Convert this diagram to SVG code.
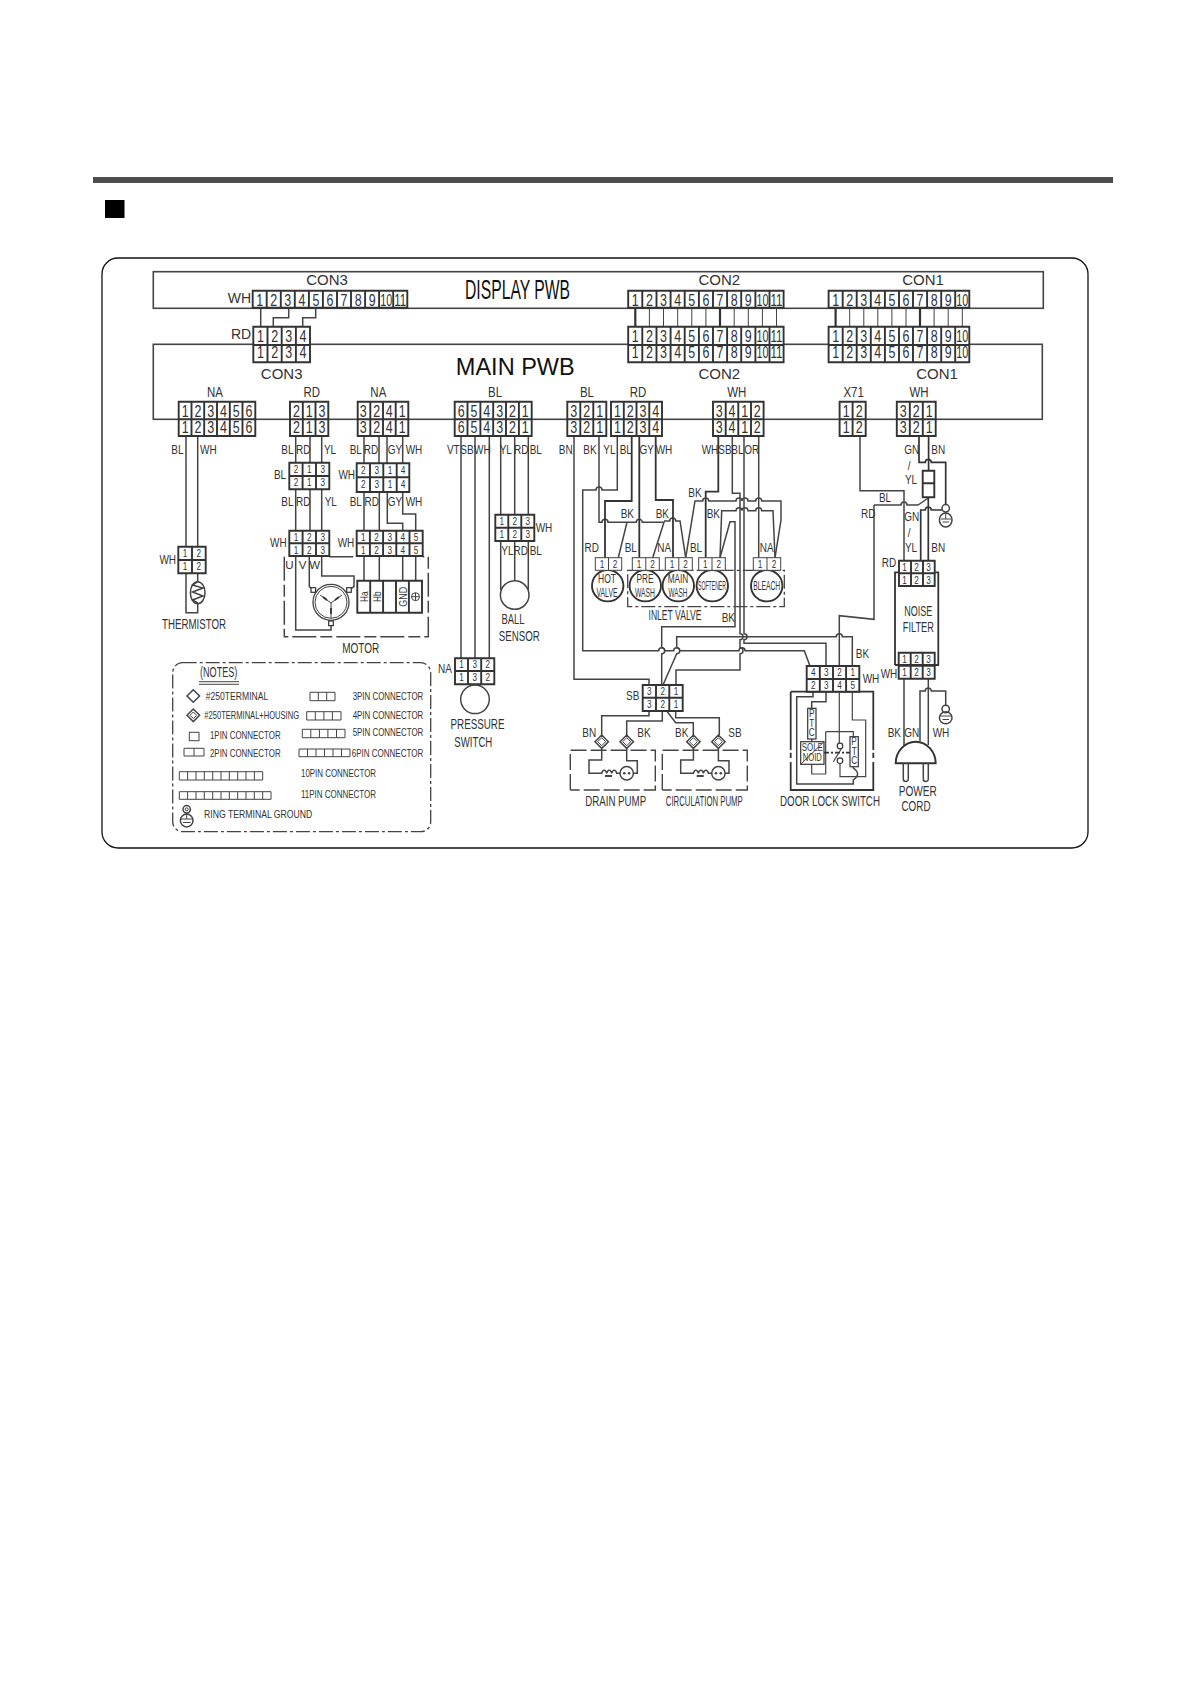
<svg xmlns="http://www.w3.org/2000/svg" width="1191" height="1683" viewBox="0 0 1191 1683">
<style>
text{font-family:"Liberation Sans",Arial,sans-serif;fill:#333;text-anchor:middle;transform-box:fill-box;transform-origin:center}
.w{fill:none;stroke:#444;stroke-width:1.5}
.tw{fill:none;stroke:#333;stroke-width:1.8}
.b{fill:#fff;stroke:#333;stroke-width:1.9}
.sb{fill:#fff;stroke:#333;stroke-width:1.2}
.o{fill:none;stroke:#444;stroke-width:1.6}
.th{fill:none;stroke:#444;stroke-width:1}
.d{font-size:16px;transform:scaleX(.78)}
.s{font-size:10px;transform:scaleX(.82)}
.l{font-size:13.5px;transform:scaleX(.74)}
.n{font-size:14px;transform:scaleX(.72)}
.h{font-size:14px;transform:scaleX(.82)}
.m{font-size:11.5px}
.v{font-size:12px}
.c{font-size:15px}
.x{font-size:14px}
text[textLength]{transform:none}
.dd{fill:none;stroke:#444;stroke-width:1.5;stroke-dasharray:24 4 12 4}
.dc{fill:none;stroke:#444;stroke-width:1.3;stroke-dasharray:14 3 3 3}
.pf{fill:none;stroke:#444;stroke-width:1.4;stroke-dasharray:16 4}
</style>
<g id="page">
<rect x="93" y="177" width="1020" height="6" fill="#4d4d4d"/>
<rect x="105" y="200" width="19.500" height="18" fill="#000"/>
<rect x="102" y="258" width="986" height="590" rx="16" fill="none" stroke="#111" stroke-width="1.300"/>
</g>
<g id="display-pwb">
<rect class="o" x="153.300" y="271.700" width="890" height="36.600"/>
<text x="517.500" y="298.500" font-size="27" textLength="105" lengthAdjust="spacingAndGlyphs" style="fill:#111">DISPLAY PWB</text>
<text class="c" x="327" y="285">CON3</text>
<text class="c" x="719.300" y="285">CON2</text>
<text class="c" x="923" y="285">CON1</text>
</g>
<g id="main-pwb">
<rect class="o" x="153.300" y="344.300" width="889" height="75"/>
<text x="515.300" y="375.300" font-size="24.500" textLength="119" lengthAdjust="spacingAndGlyphs" style="fill:#111">MAIN PWB</text>
<text class="c" x="281.700" y="379">CON3</text>
<text class="c" x="719.300" y="379">CON2</text>
<text class="c" x="937" y="379">CON1</text>
<text class="h" x="215" y="396.700">NA</text>
<text class="h" x="311.700" y="396.700">RD</text>
<text class="h" x="378.300" y="396.700">NA</text>
<text class="h" x="495" y="396.700">BL</text>
<text class="h" x="587" y="396.700">BL</text>
<text class="h" x="638" y="396.700">RD</text>
<text class="h" x="736.800" y="396.700">WH</text>
<text class="h" x="853.600" y="396.700">X71</text>
<text class="h" x="919" y="396.700">WH</text>
</g>
<g id="connectors">
<path class="w" d="M260.700 308V327M288.700 308V317.700H273.300V327M315.700 308V317.700H302.700V327"/>
<path class="tw" style="stroke-width:2.200" d="M635.300 308V327M720 308V327M835.600 308V327M920 308V327"/>
<path class="th" d="M649.400 308V327M663.500 308V327M677.700 308V327M691.800 308V327M705.900 308V327M734.200 308V327M748.300 308V327M762.400 308V327M776.500 308V327M849.700 308V327M863.800 308V327M877.800 308V327M891.900 308V327M906 308V327M934.100 308V327M948.200 308V327M962.300 308V327"/>
<path class="w" d="M186 436V546.700M186 573.300V612.700H197.700V603M197.700 436V546.700M197.700 573.300V581.700"/>
<path class="w" d="M295.700 436V462.700M310 436V462.700M321.700 436V462.700M295.700 489.300V530.700M310 489.300V530.700M321.700 489.300V530.700"/>
<path class="w" d="M364 436V463.300M379 436V463.300M387 436V463.300M402.700 436V463.300M364 492V530.700M379.300 492V530.700M387.300 492V523.300H402.700V530.700M402.700 492V514H415.700V530.700"/>
<path class="w" d="M295.700 556V630H331V624M309.300 556V586.700L313.300 590M321.700 556V576H354V586.700L349 590"/>
<path class="w" d="M364 556V580.700M379.300 556V580.700M402.700 556V580.700M415.700 556V580.700"/>
<path class="w" d="M461 436V658.300M475 436V658.300M489.300 436V658.300"/>
<path class="w" d="M500.700 436V514.700M514.700 436V514.700M528.300 436V514.700M500.700 541V590M514.700 541V580.700M528.300 541V590"/>
<path class="w" d="M574 436V679.300H649V685"/>
<path class="w" d="M617.300 436V490H602a3 3 0 0 0-6 0H582.700V650.700H658.700a3 3 0 0 1 6 0H673.700a3 3 0 0 1 6 0H739a3 3 0 0 1 6 0H804.300L810 666"/>
<path class="w" d="M599 436V522.300H602a3 3 0 0 1 6 0H627L618.300 557.700M627 522.300H636.300a3 3 0 0 1 6 0H664L652.700 557.700M664 521H669.700a3 3 0 0 1 6 0H680L685.700 557.700"/>
<path class="tw" d="M605 557.700V501H631.700V436M639.300 436V557.700M655.700 436V500H673V557.700"/>
<path class="tw" d="M705.700 557.700V491.700H718.300V436"/>
<path class="w" d="M685.700 557.700L695 501H702.700a3 3 0 0 1 6 0H736a3 3 0 0 1 6 0a3 3 0 0 1 6 0H755.700a3 3 0 0 1 6 0H781V520L775 557.700"/>
<path class="w" d="M720 557.700L721.700 510.700H736a3 3 0 0 1 6 0a3 3 0 0 1 6 0H755.700a3 3 0 0 1 6 0H773L775 557.700"/>
<path class="w" d="M720 557.700L730 521.700H735V626.700H661.700V647.700a3 3 0 0 1 0 6V685"/>
<path class="w" d="M758.700 436V557.700"/>
<path class="w" d="M852.300 666V636.700H842.300a3 3 0 0 0-6 0H676.700V647.700a3 3 0 0 1 0 6L663 685"/>
<path class="w" d="M744 436V633.700a3 3 0 0 1 0 6V643.300H826V666"/>
<path class="w" d="M732.300 436V493.300H740V633.700a3 3 0 0 1 0 6V647.700a3 3 0 0 1 0 6V670H676V685"/>
<path class="w" d="M874 505V619.300L839.300 615.700V666M874 505H901a3 3 0 0 1 6 0H918L928.300 498"/>
<path class="w" d="M860 436V490.700H904V560.700"/>
<path class="tw" style="stroke-width:1.700" d="M919 436V462.300H925.300a3 3 0 0 1 6 0H945.700V504.500M928.600 436V470.700M928.300 497.300V560.700M920.700 560.700V510H925.300a3 3 0 0 1 6 0H942"/>
<path class="w" d="M649 711V715.700H601.700V735M662.300 711V721H626.700V735M666.700 711L675.700 722.700H693.300V735M675.700 711V717.700H719.300V735"/>
<path class="w" d="M904 678.700V747M920 741.700V691H925.300a3 3 0 0 1 6 0H945.700V705M928.300 678.700V691M928.300 691V745"/>
</g>
<g id="con3-display">
<path class="b" d="M252.700 290.700H407.300V307.700H252.700ZM266.700 290.700V307.700M280.800 290.700V307.700M294.800 290.700V307.700M308.900 290.700V307.700M322.900 290.700V307.700M337 290.700V307.700M351 290.700V307.700M365.100 290.700V307.700M379.100 290.700V307.700M393.200 290.700V307.700"/>
<text class="d" x="259.700" y="306">1</text><text class="d" x="273.800" y="306">2</text><text class="d" x="287.800" y="306">3</text><text class="d" x="301.900" y="306">4</text><text class="d" x="315.900" y="306">5</text><text class="d" x="330" y="306">6</text><text class="d" x="344" y="306">7</text><text class="d" x="358.100" y="306">8</text><text class="d" x="372.100" y="306">9</text><text class="d" x="386.200" y="306" textLength="12" lengthAdjust="spacingAndGlyphs">10</text><text class="d" x="400.200" y="306" textLength="12" lengthAdjust="spacingAndGlyphs">11</text>
<text class="x" x="239.500" y="303.300">WH</text>
</g>
<g id="con3-main">
<path class="b" d="M253.300 326.700H310V362.300H253.300ZM253.300 345H310M267.500 326.700V362.300M281.700 326.700V362.300M295.900 326.700V362.300"/>
<text class="d" x="260.400" y="341.700">1</text><text class="d" x="274.600" y="341.700">2</text><text class="d" x="288.800" y="341.700">3</text><text class="d" x="303" y="341.700">4</text>
<text class="d" x="260.400" y="358.300">1</text><text class="d" x="274.600" y="358.300">2</text><text class="d" x="288.800" y="358.300">3</text><text class="d" x="303" y="358.300">4</text>
<text class="x" x="241" y="339">RD</text>
</g>
<g id="con2-display">
<path class="b" d="M628.200 290.700H783.600V307.700H628.200ZM642.300 290.700V307.700M656.500 290.700V307.700M670.600 290.700V307.700M684.700 290.700V307.700M698.900 290.700V307.700M713 290.700V307.700M727.100 290.700V307.700M741.200 290.700V307.700M755.400 290.700V307.700M769.500 290.700V307.700"/>
<text class="d" x="635.300" y="306">1</text><text class="d" x="649.400" y="306">2</text><text class="d" x="663.500" y="306">3</text><text class="d" x="677.700" y="306">4</text><text class="d" x="691.800" y="306">5</text><text class="d" x="705.900" y="306">6</text><text class="d" x="720" y="306">7</text><text class="d" x="734.200" y="306">8</text><text class="d" x="748.300" y="306">9</text><text class="d" x="762.400" y="306" textLength="12" lengthAdjust="spacingAndGlyphs">10</text><text class="d" x="776.500" y="306" textLength="12" lengthAdjust="spacingAndGlyphs">11</text>
</g>
<g id="con2-main">
<path class="b" d="M628.200 326.700H783.600V362.300H628.200ZM628.200 345H783.600M642.300 326.700V362.300M656.500 326.700V362.300M670.600 326.700V362.300M684.700 326.700V362.300M698.900 326.700V362.300M713 326.700V362.300M727.100 326.700V362.300M741.200 326.700V362.300M755.400 326.700V362.300M769.500 326.700V362.300"/>
<text class="d" x="635.300" y="341.700">1</text><text class="d" x="649.400" y="341.700">2</text><text class="d" x="663.500" y="341.700">3</text><text class="d" x="677.700" y="341.700">4</text><text class="d" x="691.800" y="341.700">5</text><text class="d" x="705.900" y="341.700">6</text><text class="d" x="720" y="341.700">7</text><text class="d" x="734.200" y="341.700">8</text><text class="d" x="748.300" y="341.700">9</text><text class="d" x="762.400" y="341.700" textLength="12" lengthAdjust="spacingAndGlyphs">10</text><text class="d" x="776.500" y="341.700" textLength="12" lengthAdjust="spacingAndGlyphs">11</text>
<text class="d" x="635.300" y="358.300">1</text><text class="d" x="649.400" y="358.300">2</text><text class="d" x="663.500" y="358.300">3</text><text class="d" x="677.700" y="358.300">4</text><text class="d" x="691.800" y="358.300">5</text><text class="d" x="705.900" y="358.300">6</text><text class="d" x="720" y="358.300">7</text><text class="d" x="734.200" y="358.300">8</text><text class="d" x="748.300" y="358.300">9</text><text class="d" x="762.400" y="358.300" textLength="12" lengthAdjust="spacingAndGlyphs">10</text><text class="d" x="776.500" y="358.300" textLength="12" lengthAdjust="spacingAndGlyphs">11</text>
</g>
<g id="con1-display">
<path class="b" d="M828.600 290.700H969.300V307.700H828.600ZM842.700 290.700V307.700M856.700 290.700V307.700M870.800 290.700V307.700M884.900 290.700V307.700M899 290.700V307.700M913 290.700V307.700M927.100 290.700V307.700M941.200 290.700V307.700M955.200 290.700V307.700"/>
<text class="d" x="835.600" y="306">1</text><text class="d" x="849.700" y="306">2</text><text class="d" x="863.800" y="306">3</text><text class="d" x="877.800" y="306">4</text><text class="d" x="891.900" y="306">5</text><text class="d" x="906" y="306">6</text><text class="d" x="920" y="306">7</text><text class="d" x="934.100" y="306">8</text><text class="d" x="948.200" y="306">9</text><text class="d" x="962.300" y="306" textLength="12" lengthAdjust="spacingAndGlyphs">10</text>
</g>
<g id="con1-main">
<path class="b" d="M828.600 326.700H969.300V362.300H828.600ZM828.600 345H969.300M842.700 326.700V362.300M856.700 326.700V362.300M870.800 326.700V362.300M884.900 326.700V362.300M899 326.700V362.300M913 326.700V362.300M927.100 326.700V362.300M941.200 326.700V362.300M955.200 326.700V362.300"/>
<text class="d" x="835.600" y="341.700">1</text><text class="d" x="849.700" y="341.700">2</text><text class="d" x="863.800" y="341.700">3</text><text class="d" x="877.800" y="341.700">4</text><text class="d" x="891.900" y="341.700">5</text><text class="d" x="906" y="341.700">6</text><text class="d" x="920" y="341.700">7</text><text class="d" x="934.100" y="341.700">8</text><text class="d" x="948.200" y="341.700">9</text><text class="d" x="962.300" y="341.700" textLength="12" lengthAdjust="spacingAndGlyphs">10</text>
<text class="d" x="835.600" y="358.300">1</text><text class="d" x="849.700" y="358.300">2</text><text class="d" x="863.800" y="358.300">3</text><text class="d" x="877.800" y="358.300">4</text><text class="d" x="891.900" y="358.300">5</text><text class="d" x="906" y="358.300">6</text><text class="d" x="920" y="358.300">7</text><text class="d" x="934.100" y="358.300">8</text><text class="d" x="948.200" y="358.300">9</text><text class="d" x="962.300" y="358.300" textLength="12" lengthAdjust="spacingAndGlyphs">10</text>
</g>
<g id="na6">
<path class="b" d="M178.700 401.700H255.300V436H178.700ZM178.700 419.300H255.300M191.500 401.700V436M204.200 401.700V436M217 401.700V436M229.800 401.700V436M242.500 401.700V436"/>
<text class="d" x="185.100" y="416.700">1</text><text class="d" x="197.900" y="416.700">2</text><text class="d" x="210.600" y="416.700">3</text><text class="d" x="223.400" y="416.700">4</text><text class="d" x="236.200" y="416.700">5</text><text class="d" x="249" y="416.700">6</text>
<text class="d" x="185.100" y="433.300">1</text><text class="d" x="197.900" y="433.300">2</text><text class="d" x="210.600" y="433.300">3</text><text class="d" x="223.400" y="433.300">4</text><text class="d" x="236.200" y="433.300">5</text><text class="d" x="249" y="433.300">6</text>
</g>
<g id="rd3">
<path class="b" d="M290 401.700H328.300V436H290ZM290 419.300H328.300M302.800 401.700V436M315.500 401.700V436"/>
<text class="d" x="296.400" y="416.700">2</text><text class="d" x="309.100" y="416.700">1</text><text class="d" x="321.900" y="416.700">3</text>
<text class="d" x="296.400" y="433.300">2</text><text class="d" x="309.100" y="433.300">1</text><text class="d" x="321.900" y="433.300">3</text>
</g>
<g id="na4">
<path class="b" d="M357.700 401.700H408.300V436H357.700ZM357.700 419.300H408.300M370.300 401.700V436M383 401.700V436M395.700 401.700V436"/>
<text class="d" x="363.300" y="416.700">3</text><text class="d" x="376.700" y="416.700">2</text><text class="d" x="389.300" y="416.700">4</text><text class="d" x="402.300" y="416.700">1</text>
<text class="d" x="363.300" y="433.300">3</text><text class="d" x="376.700" y="433.300">2</text><text class="d" x="389.300" y="433.300">4</text><text class="d" x="402.300" y="433.300">1</text>
</g>
<g id="bl6">
<path class="b" d="M454.700 401.700H531.700V436H454.700ZM454.700 419.300H531.700M467.500 401.700V436M480.400 401.700V436M493.200 401.700V436M506 401.700V436M518.900 401.700V436"/>
<text class="d" x="461.100" y="416.700">6</text><text class="d" x="474" y="416.700">5</text><text class="d" x="486.800" y="416.700">4</text><text class="d" x="499.600" y="416.700">3</text><text class="d" x="512.500" y="416.700">2</text><text class="d" x="525.300" y="416.700">1</text>
<text class="d" x="461.100" y="433.300">6</text><text class="d" x="474" y="433.300">5</text><text class="d" x="486.800" y="433.300">4</text><text class="d" x="499.600" y="433.300">3</text><text class="d" x="512.500" y="433.300">2</text><text class="d" x="525.300" y="433.300">1</text>
</g>
<g id="bl3">
<path class="b" d="M567.300 401.700H606.300V436H567.300ZM567.300 419.300H606.300M580.300 401.700V436M593.300 401.700V436"/>
<text class="d" x="573.800" y="416.700">3</text><text class="d" x="586.800" y="416.700">2</text><text class="d" x="599.800" y="416.700">1</text>
<text class="d" x="573.800" y="433.300">3</text><text class="d" x="586.800" y="433.300">2</text><text class="d" x="599.800" y="433.300">1</text>
</g>
<g id="rd4">
<path class="b" d="M611 401.700H662V436H611ZM611 419.300H662M623.800 401.700V436M636.500 401.700V436M649.300 401.700V436"/>
<text class="d" x="617.400" y="416.700">1</text><text class="d" x="630.100" y="416.700">2</text><text class="d" x="642.900" y="416.700">3</text><text class="d" x="655.600" y="416.700">4</text>
<text class="d" x="617.400" y="433.300">1</text><text class="d" x="630.100" y="433.300">2</text><text class="d" x="642.900" y="433.300">3</text><text class="d" x="655.600" y="433.300">4</text>
</g>
<g id="wh4">
<path class="b" d="M713 401.700H763.600V436H713ZM713 419.300H763.600M725.700 401.700V436M738.300 401.700V436M751 401.700V436"/>
<text class="d" x="719.300" y="416.700">3</text><text class="d" x="732" y="416.700">4</text><text class="d" x="744.600" y="416.700">1</text><text class="d" x="757.300" y="416.700">2</text>
<text class="d" x="719.300" y="433.300">3</text><text class="d" x="732" y="433.300">4</text><text class="d" x="744.600" y="433.300">1</text><text class="d" x="757.300" y="433.300">2</text>
</g>
<g id="x71">
<path class="b" d="M839.600 401.700H865.700V436H839.600ZM839.600 419.300H865.700M852.600 401.700V436"/>
<text class="d" x="846.100" y="416.700">1</text><text class="d" x="859.100" y="416.700">2</text>
<text class="d" x="846.100" y="433.300">1</text><text class="d" x="859.100" y="433.300">2</text>
</g>
<g id="wh3">
<path class="b" d="M896.800 401.700H935.700V436H896.800ZM896.800 419.300H935.700M909.800 401.700V436M922.800 401.700V436"/>
<text class="d" x="903.300" y="416.700">3</text><text class="d" x="916.300" y="416.700">2</text><text class="d" x="929.300" y="416.700">1</text>
<text class="d" x="903.300" y="433.300">3</text><text class="d" x="916.300" y="433.300">2</text><text class="d" x="929.300" y="433.300">1</text>
</g>
<g id="wire-labels">
<text class="l" x="177.300" y="454.300">BL</text><text class="l" x="208.300" y="454.300">WH</text>
<text class="l" x="287.300" y="454.300">BL</text><text class="l" x="303.300" y="454.300">RD</text><text class="l" x="330" y="454.300">YL</text>
<text class="l" x="355.700" y="454.300">BL</text><text class="l" x="371" y="454.300">RD</text><text class="l" x="395" y="454.300">GY</text><text class="l" x="414" y="454.300">WH</text>
<text class="l" x="453.300" y="454.300">VT</text><text class="l" x="467" y="454.300">SB</text><text class="l" x="482.300" y="454.300">WH</text><text class="l" x="505.700" y="454.300">YL</text><text class="l" x="521.300" y="454.300">RD</text><text class="l" x="535.700" y="454.300">BL</text>
<text class="l" x="565.700" y="454.300">BN</text><text class="l" x="590" y="454.300">BK</text><text class="l" x="609.300" y="454.300">YL</text><text class="l" x="625.700" y="454.300">BL</text><text class="l" x="646.700" y="454.300">GY</text><text class="l" x="664" y="454.300">WH</text>
<text class="l" x="710" y="454.300">WH</text><text class="l" x="725" y="454.300">SB</text><text class="l" x="737.300" y="454.300">BL</text><text class="l" x="751.700" y="454.300">OR</text>
<text class="l" x="911.700" y="454.300">GN</text><text class="l" x="909" y="470">/</text><text class="l" x="911" y="484">YL</text><text class="l" x="938.300" y="454.300">BN</text>
<text class="l" x="280" y="479.300">BL</text><text class="l" x="346.700" y="479.300">WH</text>
<text class="l" x="287.300" y="506">BL</text><text class="l" x="303.300" y="506">RD</text><text class="l" x="330.700" y="506">YL</text>
<text class="l" x="355.700" y="506">BL</text><text class="l" x="371.700" y="506">RD</text><text class="l" x="395" y="506">GY</text><text class="l" x="414" y="506">WH</text>
<text class="l" x="278.300" y="547.300">WH</text><text class="l" x="346" y="547.300">WH</text><text class="l" x="167.700" y="564">WH</text>
<text class="l" x="544" y="531.700">WH</text><text class="l" x="507.300" y="555">YL</text><text class="l" x="520.700" y="555">RD</text><text class="l" x="535.700" y="555">BL</text>
<text class="l" x="627.300" y="517.700">BK</text><text class="l" x="662.300" y="517.700">BK</text><text class="l" x="695" y="496.700">BK</text><text class="l" x="713.300" y="517.700">BK</text>
<text class="l" x="591.700" y="552.300">RD</text><text class="l" x="630.700" y="552.300">BL</text><text class="l" x="664.300" y="552.300">NA</text><text class="l" x="696" y="552.300">BL</text><text class="l" x="766.700" y="552.300">NA</text>
<text class="l" x="728.300" y="621.700">BK</text><text class="l" x="862.500" y="658.500">BK</text>
<text class="l" x="885" y="501.700">BL</text><text class="l" x="868.300" y="518.300">RD</text>
<text class="l" x="911.700" y="521">GN</text><text class="l" x="909" y="536.700">/</text><text class="l" x="911" y="551.700">YL</text><text class="l" x="938.300" y="551.700">BN</text>
<text class="l" x="889" y="567.300">RD</text><text class="l" x="889" y="677.700">WH</text><text class="l" x="871" y="683.300">WH</text>
<text class="l" x="445" y="672.700">NA</text><text class="l" x="632.700" y="700">SB</text>
<text class="l" x="589.300" y="736.700">BN</text><text class="l" x="644" y="736.700">BK</text><text class="l" x="681.700" y="736.700">BK</text><text class="l" x="735" y="736.700">SB</text>
<text class="l" x="894.300" y="736.700">BK</text><text class="l" x="911.700" y="736.700">GN</text><text class="l" x="941" y="736.700">WH</text>
</g>
<g id="thermistor">
<path class="b" d="M178.300 546.700H205.700V573.300H178.300ZM178.300 560H205.700M192 546.700V573.300"/>
<text class="s" x="185" y="557">1</text><text class="s" x="198.700" y="557">2</text><text class="s" x="185" y="570">1</text><text class="s" x="198.700" y="570">2</text>
<ellipse class="w" cx="197.700" cy="592.700" rx="7.300" ry="11"/>
<path class="w" d="M197.700 603L192.500 600L203 596L192.500 592L203 588L192.500 585L197.700 581.700"/>
<text class="x" x="194" y="628.700" textLength="64" lengthAdjust="spacingAndGlyphs">THERMISTOR</text>
</g>
<g id="inline-bl">
<path class="b" d="M289.300 462.700H329.300V489.300H289.300ZM289.300 476H329.300M302.600 462.700V489.300M316 462.700V489.300"/>
<text class="s" x="296" y="473">2</text><text class="s" x="309.300" y="473">1</text><text class="s" x="322.700" y="473">3</text><text class="s" x="296" y="486.500">2</text><text class="s" x="309.300" y="486.500">1</text><text class="s" x="322.700" y="486.500">3</text>
</g>
<g id="inline-wh4">
<path class="b" d="M356.700 463.300H409.300V492H356.700ZM356.700 477.300H409.300M370 463.300V492M383.300 463.300V492M396.700 463.300V492"/>
<text class="s" x="363.300" y="474">2</text><text class="s" x="376.700" y="474">3</text><text class="s" x="390" y="474">1</text><text class="s" x="403" y="474">4</text><text class="s" x="363.300" y="488">2</text><text class="s" x="376.700" y="488">3</text><text class="s" x="390" y="488">1</text><text class="s" x="403" y="488">4</text>
</g>
<g id="motor">
<path class="dd" d="M284.300 556.700V636.700H428.300V556.700H422.700M329.300 556.700H356.700"/>
<path class="b" d="M289.300 530.700H329.300V556H289.300ZM289.300 543.300H329.300M302.600 530.700V556M316 530.700V556"/>
<text class="s" x="296" y="541">1</text><text class="s" x="309.300" y="541">2</text><text class="s" x="322.700" y="541">3</text><text class="s" x="296" y="554">1</text><text class="s" x="309.300" y="554">2</text><text class="s" x="322.700" y="554">3</text>
<path class="b" d="M356.700 530.700H422.700V556H356.700ZM356.700 543.300H422.700M369.900 530.700V556M383.100 530.700V556M396.300 530.700V556M409.500 530.700V556"/>
<text class="s" x="363.300" y="541">1</text><text class="s" x="376.500" y="541">2</text><text class="s" x="389.700" y="541">3</text><text class="s" x="402.900" y="541">4</text><text class="s" x="416.100" y="541">5</text><text class="s" x="363.300" y="554">1</text><text class="s" x="376.500" y="554">2</text><text class="s" x="389.700" y="554">3</text><text class="s" x="402.900" y="554">4</text><text class="s" x="416.100" y="554">5</text>
<text class="m" x="289.300" y="569.300">U</text><text class="m" x="302.700" y="569.300">V</text><text class="m" x="314.700" y="569.300">W</text>
<circle cx="331" cy="602.300" r="18" fill="#fff" stroke="#444" stroke-width="1.300"/><circle cx="331" cy="602.300" r="16" class="th"/>
<path class="th" d="M331 603V618M331 603L320 595M331 603L342 595"/>
<path class="tw" d="M331 608V614M323 597L327 600M339 597L335 600"/>
<rect class="sb" x="311" y="587.700" width="4.600" height="4.600"/><rect class="sb" x="346.700" y="587.700" width="4.600" height="4.600"/><rect class="sb" x="328.700" y="621" width="4.600" height="4.600"/>
<path class="b" d="M357.300 580.700H422V612.700H357.300ZM370.200 580.700V612.700M383.100 580.700V612.700M396 580.700V612.700M408.900 580.700V612.700"/>
<g transform="translate(367.700 596.700) rotate(-90)"><text class="m" textLength="10.700" lengthAdjust="spacingAndGlyphs">Ha</text></g><g transform="translate(380.600 596.700) rotate(-90)"><text class="m" textLength="10.700" lengthAdjust="spacingAndGlyphs">Hb</text></g><g transform="translate(406.500 596.700) rotate(-90)"><text class="m" textLength="20" lengthAdjust="spacingAndGlyphs">GND</text></g>
<circle class="th" cx="415.500" cy="596.700" r="4"/><path class="th" d="M411.500 596.700H419.500M415.500 592.700V600.700"/>
<text class="x" x="360.700" y="652.700" textLength="37" lengthAdjust="spacingAndGlyphs">MOTOR</text>
</g>
<g id="pressure-switch">
<path class="b" d="M455 658.300H494.300V684.300H455ZM455 671H494.300M468 658.300V684.300M481.200 658.300V684.300"/>
<text class="s" x="461.500" y="668.500">1</text><text class="s" x="474.700" y="668.500">3</text><text class="s" x="487.800" y="668.500">2</text><text class="s" x="461.500" y="681.500">1</text><text class="s" x="474.700" y="681.500">3</text><text class="s" x="487.800" y="681.500">2</text>
<circle class="w" cx="475" cy="699.300" r="14.300"/>
<text class="x" x="477.500" y="729.300" textLength="54" lengthAdjust="spacingAndGlyphs">PRESSURE</text><text class="x" x="473.300" y="746.700" textLength="38" lengthAdjust="spacingAndGlyphs">SWITCH</text>
</g>
<g id="ball-sensor">
<path class="b" d="M495.300 514.700H534.300V541H495.300ZM495.300 527.700H534.300M508.300 514.700V541M521.300 514.700V541"/>
<text class="s" x="501.800" y="525">1</text><text class="s" x="514.800" y="525">2</text><text class="s" x="527.800" y="525">3</text><text class="s" x="501.800" y="538">1</text><text class="s" x="514.800" y="538">2</text><text class="s" x="527.800" y="538">3</text>
<circle class="w" cx="514.700" cy="595" r="14.300"/>
<text class="x" x="513" y="624.300" textLength="23" lengthAdjust="spacingAndGlyphs">BALL</text><text class="x" x="519.300" y="640.700" textLength="41" lengthAdjust="spacingAndGlyphs">SENSOR</text>
</g>
<g id="inlet-valve">
<path class="dc" d="M627.700 570.300H784.300V606.700H627.700Z"/>
<text class="x" x="675" y="620" textLength="53" lengthAdjust="spacingAndGlyphs">INLET VALVE</text>
</g>
<g id="hot-valve">
<circle class="b" cx="607.700" cy="585.700" r="15.700"/>
<rect class="th" x="595.300" y="557.700" width="26.400" height="12.600" style="fill:#fff"/><path class="th" d="M608.500 557.700V570.300"/>
<text class="s" x="602" y="567.800">1</text><text class="s" x="615" y="567.800">2</text>
<text class="v" x="607" y="582.700" textLength="18" lengthAdjust="spacingAndGlyphs">HOT</text><text class="v" x="607" y="596.700" textLength="21" lengthAdjust="spacingAndGlyphs">VALVE</text>
</g>
<g id="pre-wash">
<circle class="b" cx="645.300" cy="585.700" r="15.700"/>
<rect class="th" x="632.300" y="557.700" width="27" height="12.600" style="fill:#fff"/><path class="th" d="M645.800 557.700V570.300"/>
<text class="s" x="639" y="567.800">1</text><text class="s" x="652.500" y="567.800">2</text>
<text class="v" x="645" y="582.700" textLength="17" lengthAdjust="spacingAndGlyphs">PRE</text><text class="v" x="645" y="596.700" textLength="20" lengthAdjust="spacingAndGlyphs">WASH</text>
</g>
<g id="main-wash">
<circle class="b" cx="678.300" cy="585.700" r="15.700"/>
<rect class="th" x="665.300" y="557.700" width="27" height="12.600" style="fill:#fff"/><path class="th" d="M678.800 557.700V570.300"/>
<text class="s" x="672" y="567.800">1</text><text class="s" x="685.500" y="567.800">2</text>
<text class="v" x="678" y="582.700" textLength="20.500" lengthAdjust="spacingAndGlyphs">MAIN</text><text class="v" x="678" y="596.700" textLength="19" lengthAdjust="spacingAndGlyphs">WASH</text>
</g>
<g id="softener">
<circle class="b" cx="712.300" cy="585.700" r="15.700"/>
<rect class="th" x="698.700" y="557.700" width="26.600" height="12.600" style="fill:#fff"/><path class="th" d="M712 557.700V570.300"/>
<text class="s" x="705.300" y="567.800">1</text><text class="s" x="718.700" y="567.800">2</text>
<text class="v" x="712" y="589.500" textLength="28" lengthAdjust="spacingAndGlyphs">SOFTENER</text>
</g>
<g id="bleach">
<circle class="b" cx="766.700" cy="585.700" r="15.700"/>
<rect class="th" x="753.300" y="557.700" width="27.400" height="12.600" style="fill:#fff"/><path class="th" d="M767 557.700V570.300"/>
<text class="s" x="760" y="567.800">1</text><text class="s" x="774" y="567.800">2</text>
<text class="v" x="766.700" y="589.500" textLength="27" lengthAdjust="spacingAndGlyphs">BLEACH</text>
</g>
<g id="sb-connector">
<path class="b" d="M642.700 685H682.700V711H642.700ZM642.700 697.700H682.700M656 685V711M669.300 685V711"/>
<text class="s" x="649.300" y="695.500">3</text><text class="s" x="662.700" y="695.500">2</text><text class="s" x="676" y="695.500">1</text><text class="s" x="649.300" y="708.500">3</text><text class="s" x="662.700" y="708.500">2</text><text class="s" x="676" y="708.500">1</text>
</g>
<g id="drain-pump">
<path class="pf" d="M570.300 790V750.300H655.300V790H570.300"/>
<path class="w" d="M595 741.700L601.700 735L608.400 741.700L601.700 748.400ZM620 741.700L626.700 735L633.400 741.700L626.700 748.400Z"/>
<path class="th" d="M597.700 741.700L601.700 737.700L605.700 741.700L601.700 745.700ZM622.700 741.700L626.700 737.700L630.700 741.700L626.700 745.700Z"/>
<path class="w" d="M601.700 748.400V760H589V773.300H601.700c1-4 4-4 5 0c1-4 4-4 5 0c1-4 4-4 5 0H620M626.700 748.400V760.700H637.300V773.300H633.400"/>
<circle class="w" cx="626.700" cy="773.300" r="6.700"/><circle cx="624.300" cy="773.300" r="1.300" fill="#444"/><circle cx="629.100" cy="773.300" r="1.300" fill="#444"/>
<path d="M605 775h7v2h-7z" fill="#444"/>
<text class="x" x="615.700" y="805.700" textLength="61" lengthAdjust="spacingAndGlyphs">DRAIN PUMP</text>
</g>
<g id="circulation-pump">
<path class="pf" d="M662.300 790V750.300H747.300V790H662.300"/>
<path class="w" d="M686.700 741.700L693.400 735L700.100 741.700L693.400 748.400ZM711.700 741.700L718.400 735L725.100 741.700L718.400 748.400Z"/>
<path class="th" d="M689.400 741.700L693.400 737.700L697.400 741.700L693.400 745.700ZM714.400 741.700L718.400 737.700L722.400 741.700L718.400 745.700Z"/>
<path class="w" d="M693.400 748.400V760H680.700V773.300H693.400c1-4 4-4 5 0c1-4 4-4 5 0c1-4 4-4 5 0H711.700M718.400 748.400V760.700H729V773.300H725.100"/>
<circle class="w" cx="718.400" cy="773.300" r="6.700"/><circle cx="716" cy="773.300" r="1.300" fill="#444"/><circle cx="720.800" cy="773.300" r="1.300" fill="#444"/>
<path d="M696.700 775h7v2h-7z" fill="#444"/>
<text class="x" x="704.300" y="805.700" textLength="77" lengthAdjust="spacingAndGlyphs">CIRCULATION PUMP</text>
</g>
<g id="door-lock-switch">
<path class="tw" d="M790.700 691.700V750M790.700 752.700V758M790.700 762V790H873.300V762M873.300 758V752.700M873.300 750V691.700H790.700"/>
<path class="w" d="M813 691.700V696.700H796.700V784H853.300V780C859 776 859 772 853.300 768V766.700M826 691.700V701.700H811.700V708.300M811.700 739V741.700"/>
<path class="w" style="stroke-width:1.200" d="M839.300 691.700V731.700M825.700 731.700H853.300V736.700M825.700 731.700V774H811.700V764.300M839.300 731.700V743M852.300 691.700V720H865.700V776.700H840V763.500"/>
<rect class="sb" x="807.700" y="708.300" width="8.300" height="30.700"/>
<text class="s" x="811.800" y="717.500">P</text><text class="s" x="811.800" y="727">T</text><text class="s" x="811.800" y="736.500">C</text>
<rect class="sb" x="850" y="736.700" width="8.300" height="30"/>
<text class="s" x="854.100" y="745.500">P</text><text class="s" x="854.100" y="755">T</text><text class="s" x="854.100" y="764.500">C</text>
<rect class="sb" x="800.700" y="741.700" width="23.300" height="22.600"/>
<text class="s" x="812.300" y="750.500" textLength="21" lengthAdjust="spacingAndGlyphs">SOLE</text><text class="s" x="812.300" y="761" textLength="19" lengthAdjust="spacingAndGlyphs">NOID</text>
<path class="th" d="M800.700 764.300L824 741.700"/>
<path class="tw" stroke-dasharray="5 2 2 2" d="M824 752.700H850"/>
<circle class="sb" cx="840" cy="746" r="2.800"/><circle class="sb" cx="840" cy="760.700" r="2.800"/>
<path class="w" style="stroke-width:1.200" d="M833.300 761.700L841.700 748.300"/>
<path class="b" d="M806.700 666H859.300V691.700H806.700ZM806.700 679H859.300M819.800 666V691.700M833 666V691.700M846.100 666V691.700"/>
<text class="s" x="813.300" y="676.500">4</text><text class="s" x="826.400" y="676.500">3</text><text class="s" x="839.500" y="676.500">2</text><text class="s" x="852.700" y="676.500">1</text>
<text class="s" x="813.300" y="689.500">2</text><text class="s" x="826.400" y="689.500">3</text><text class="s" x="839.500" y="689.500">4</text><text class="s" x="852.700" y="689.500">5</text>
<text class="x" x="830" y="805.700" textLength="100" lengthAdjust="spacingAndGlyphs">DOOR LOCK SWITCH</text>
</g>
<g id="emi-block">
<path class="b" d="M922.700 470.700H934.300V497.300H922.700ZM922.700 483.300H934.300"/>
</g>
<g id="ground-upper">
<circle class="w" cx="945.700" cy="508.300" r="3.700"/><ellipse class="w" cx="945.700" cy="520" rx="6.300" ry="7"/><path class="th" d="M940.500 519H951M942.500 522H949M945.700 512V519"/>
</g>
<g id="noise-filter">
<path class="tw" d="M895 665V572.300H938.300V665"/>
<path class="b" d="M899 560.700H934.700V586H899ZM899 573.300H934.700M911 560.700V586M923 560.700V586"/>
<text class="s" x="904.500" y="571">1</text><text class="s" x="916.500" y="571">2</text><text class="s" x="928.500" y="571">3</text><text class="s" x="904.500" y="584">1</text><text class="s" x="916.500" y="584">2</text><text class="s" x="928.500" y="584">3</text>
<text class="x" x="918.300" y="615.700" textLength="28" lengthAdjust="spacingAndGlyphs">NOISE</text><text class="x" x="918.300" y="631.700" textLength="31" lengthAdjust="spacingAndGlyphs">FILTER</text>
<path class="b" d="M895 665H939M898.700 652.700H934.700V678.700H898.700ZM898.700 665.700H934.700M910.700 652.700V678.700M922.700 652.700V678.700"/>
<text class="s" x="904.500" y="663">1</text><text class="s" x="916.500" y="663">2</text><text class="s" x="928.500" y="663">3</text><text class="s" x="904.500" y="676">1</text><text class="s" x="916.500" y="676">2</text><text class="s" x="928.500" y="676">3</text>
</g>
<g id="power-cord">
<path class="b" d="M895.700 763.300A20 21.600 0 0 1 935.700 763.300Z"/>
<path class="w" d="M903.300 763.300V779a2.500 2.500 0 0 0 5 0V763.300M923.300 763.300V779a2.500 2.500 0 0 0 5 0V763.300"/>
<circle class="w" cx="945.700" cy="709" r="3.700"/><ellipse class="w" cx="945.700" cy="717.700" rx="6.300" ry="6"/><path class="th" d="M940 716H951M942.500 719.500H949"/>
<text class="x" x="917.700" y="795.700" textLength="38" lengthAdjust="spacingAndGlyphs">POWER</text><text class="x" x="916" y="811.300" textLength="29" lengthAdjust="spacingAndGlyphs">CORD</text>
</g>
<g id="notes">
<rect class="dc" x="172.700" y="662.700" width="258" height="169" rx="10"/>
<text class="x" x="218.700" y="676.700" textLength="37.300" lengthAdjust="spacingAndGlyphs">(NOTES)</text>
<path class="th" d="M199 681.700H239M199 684.300H239"/>
<path class="w" d="M187 696L193.300 689.700L199.600 696L193.300 702.300Z"/>
<text class="m" x="237" y="700" textLength="62.600" lengthAdjust="spacingAndGlyphs">#250TERMINAL</text>
<path class="w" d="M187 715.300L193.300 709L199.600 715.300L193.300 721.600Z"/><path class="th" d="M190 715.300L193.300 712L196.600 715.300L193.300 718.600Z"/>
<text class="m" x="251.700" y="719" textLength="94.700" lengthAdjust="spacingAndGlyphs">#250TERMINAL+HOUSING</text>
<rect class="th" x="189.300" y="732.300" width="9.700" height="8.400"/>
<text class="m" x="245.300" y="739" textLength="70.700" lengthAdjust="spacingAndGlyphs">1PIN CONNECTOR</text>
<path class="th" d="M184 748.300H204V756H184ZM194 748.300V756"/>
<text class="m" x="245.300" y="757.300" textLength="70.700" lengthAdjust="spacingAndGlyphs">2PIN CONNECTOR</text>
<path class="th" d="M310 692.300H335V700.700H310ZM318.300 692.300V700.700M326.700 692.300V700.700"/>
<text class="m" x="388" y="700" textLength="70.700" lengthAdjust="spacingAndGlyphs">3PIN CONNECTOR</text>
<path class="th" d="M306.700 711.700H341V720H306.700ZM315.300 711.700V720M323.900 711.700V720M332.400 711.700V720"/>
<text class="m" x="388" y="719" textLength="70.700" lengthAdjust="spacingAndGlyphs">4PIN CONNECTOR</text>
<path class="th" d="M302.300 729.300H345V737.700H302.300ZM310.800 729.300V737.700M319.400 729.300V737.700M327.900 729.300V737.700M336.500 729.300V737.700"/>
<text class="m" x="388" y="736" textLength="70.700" lengthAdjust="spacingAndGlyphs">5PIN CONNECTOR</text>
<path class="th" d="M299 749H350V756.700H299ZM307.500 749V756.700M316 749V756.700M324.500 749V756.700M333 749V756.700M341.500 749V756.700"/>
<text class="m" x="387.500" y="756.700" textLength="71.600" lengthAdjust="spacingAndGlyphs">6PIN CONNECTOR</text>
<path class="th" d="M179.300 771.700H262.700V780H179.300ZM187.600 771.700V780M196 771.700V780M204.300 771.700V780M212.700 771.700V780M221 771.700V780M229.300 771.700V780M237.700 771.700V780M246 771.700V780M254.400 771.700V780"/>
<text class="m" x="338.500" y="777.300" textLength="75" lengthAdjust="spacingAndGlyphs">10PIN CONNECTOR</text>
<path class="th" d="M179.300 791.700H271V799.300H179.300ZM187.600 791.700V799.300M196 791.700V799.300M204.300 791.700V799.300M212.700 791.700V799.300M221 791.700V799.300M229.300 791.700V799.300M237.700 791.700V799.300M246 791.700V799.300M254.300 791.700V799.300M262.700 791.700V799.300"/>
<text class="m" x="338.500" y="798.300" textLength="75" lengthAdjust="spacingAndGlyphs">11PIN CONNECTOR</text>
<circle class="w" cx="186.700" cy="809.300" r="3.700"/><circle class="th" cx="186.700" cy="809.300" r="1.500"/><ellipse class="w" cx="186.700" cy="820.500" rx="6.300" ry="6.500"/><path class="th" d="M181 819H192.500M183 822.500H190.500M186.700 813V819"/>
<text class="m" x="258.200" y="817.700" textLength="108.300" lengthAdjust="spacingAndGlyphs">RING TERMINAL GROUND</text>
</g>
</svg>
